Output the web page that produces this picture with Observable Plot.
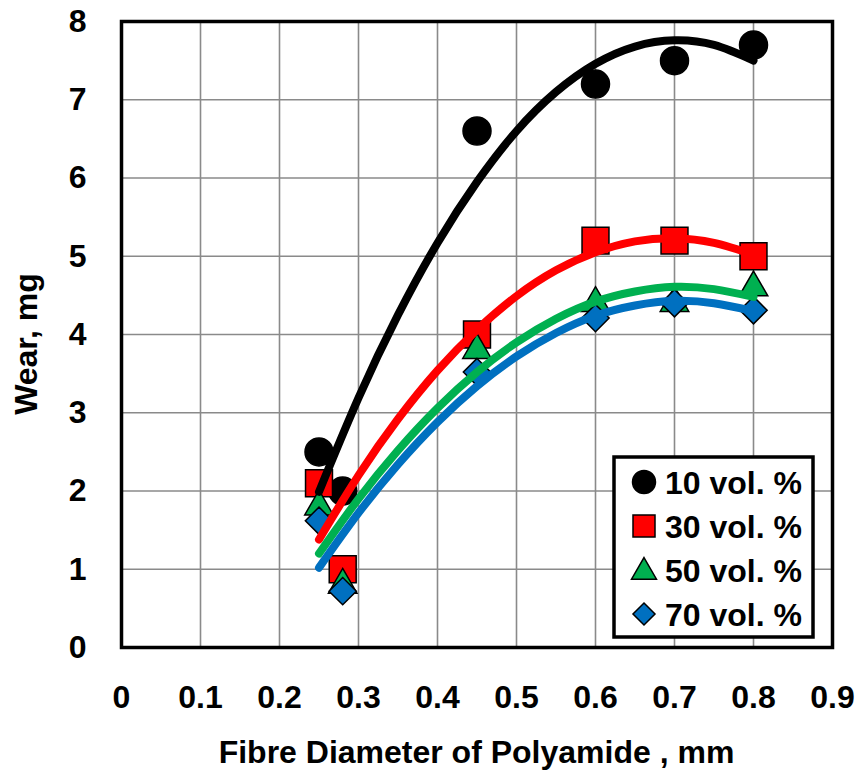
<!DOCTYPE html>
<html><head><meta charset="utf-8">
<script src="https://cdn.jsdelivr.net/npm/d3@7"></script>
<script src="https://cdn.jsdelivr.net/npm/@observablehq/plot@0.6"></script>
<style>
body{margin:0;background:#fff}
#chart{position:relative;width:857px;height:774px}
</style>
</head><body><div id="chart"></div>
<script>
// ---- data ----
const diameters = [0.25, 0.28, 0.45, 0.6, 0.7, 0.8];
const wear10 = [2.5, 2.0, 6.6, 7.2, 7.5, 7.7];
const wear30 = [2.1, 1.0, 4.0, 5.2, 5.2, 5.0];
const wear50 = [1.8, 0.8, 3.8, 4.4, 4.4, 4.6];
const wear70 = [1.62, 0.72, 3.52, 4.21, 4.4, 4.31];

// trend curves
const fitX  = [0.25, 0.30, 0.35, 0.40, 0.45, 0.50, 0.55, 0.60, 0.65, 0.70, 0.75, 0.80];
const fit10 = [1.99, 3.19, 4.25, 5.17, 5.95, 6.60, 7.10, 7.46, 7.68, 7.76, 7.70, 7.50];
const fit30 = [1.38, 2.20, 2.92, 3.54, 4.06, 4.49, 4.82, 5.05, 5.19, 5.23, 5.17, 5.02];
const fit50 = [1.20, 1.90, 2.52, 3.06, 3.52, 3.90, 4.20, 4.42, 4.55, 4.61, 4.58, 4.48];
const fit70 = [1.02, 1.72, 2.34, 2.88, 3.34, 3.72, 4.02, 4.24, 4.37, 4.43, 4.40, 4.30];

const seriesNames   = ["10 vol. %", "30 vol. %", "50 vol. %", "70 vol. %"];
const seriesColors  = ["#000000", "#FF0000", "#00B050", "#0070C0"];
const seriesSymbols = ["circle", "square", "triangle", "diamond2"];

const xTicks = [0, 0.1, 0.2, 0.3, 0.4, 0.5, 0.6, 0.7, 0.8, 0.9];
const yTicks = [0, 1, 2, 3, 4, 5, 6, 7, 8];
const xTitle = "Fibre Diameter of Polyamide , mm";
const yTitle = "Wear, mg";

// ---- layout ----
const W = 857, H = 774, mL = 121, mR = 25, mT = 21, mB = 127;
const FONT = "'Liberation Sans', Arial, sans-serif";
const markerR = [14, 15.2, 10.6, 12.3];
const wearSets = [wear10, wear30, wear50, wear70];
const fitSets = [fit10, fit30, fit50, fit70];

const dotMarks = wearSets.map((ws, i) =>
  Plot.dot(diameters.map((d, j) => ({x: d, y: ws[j]})), {
    x: "x", y: "y", symbol: seriesSymbols[i], r: markerR[i],
    fill: seriesColors[i], stroke: "black", strokeWidth: 1.5
  })
);
const lineMarks = fitSets.map((fs, i) =>
  Plot.line(fitX.map((x, j) => ({x, y: fs[j]})), {
    x: "x", y: "y", stroke: seriesColors[i], strokeWidth: 8,
    curve: "natural", strokeLinecap: "round"
  })
);

const svg = Plot.plot({
  width: W, height: H,
  marginLeft: mL, marginRight: mR, marginTop: mT, marginBottom: mB,
  style: {fontFamily: FONT, fontSize: "32px", fontWeight: "bold", color: "black", background: "white"},
  x: {domain: [0, 0.9]},
  y: {domain: [0, 8]},
  marks: [
    Plot.gridX(xTicks, {stroke: "#8a8a8a", strokeOpacity: 1, strokeWidth: 1.6}),
    Plot.gridY(yTicks, {stroke: "#8a8a8a", strokeOpacity: 1, strokeWidth: 1.6}),
    Plot.axisX(xTicks, {tickSize: 0, tickPadding: 38, tickFormat: d => String(d), label: null}),
    Plot.axisY(yTicks, {tickSize: 0, tickPadding: 35, tickFormat: d => String(d), label: null}),
    ...dotMarks,
    ...lineMarks,
    Plot.frame({stroke: "black", strokeWidth: 3.5})
  ]
});

document.getElementById("chart").appendChild(svg);

// axis titles
const s = d3.select(svg);
s.append("text")
  .attr("x", (mL + W - mR) / 2).attr("y", 763)
  .attr("text-anchor", "middle")
  .attr("font-family", FONT).attr("font-size", 32).attr("font-weight", "bold").attr("fill", "black")
  .text(xTitle);
s.append("text")
  .attr("transform", `translate(37, ${(mT + H - mB) / 2 + 10}) rotate(-90)`)
  .attr("text-anchor", "middle")
  .attr("font-family", FONT).attr("font-size", 32).attr("font-weight", "bold").attr("fill", "black")
  .text(yTitle);

// legend
const lg = s.append("g").attr("text-anchor", "start");
const LX = 614, LY = 457, LW = 199, LH = 180;
lg.append("rect").attr("x", LX).attr("y", LY).attr("width", LW).attr("height", LH)
  .attr("fill", "white").attr("stroke", "black").attr("stroke-width", 3.5);
const legSym = [d3.symbolCircle, d3.symbolSquare, d3.symbolTriangle, d3.symbolDiamond2];
const legSize = [Math.PI * 11.5 * 11.5, 22 * 22, 270, 310];
seriesNames.forEach((name, i) => {
  const cy = LY + 25 + i * 44;
  lg.append("path")
    .attr("d", d3.symbol().type(legSym[i]).size(legSize[i])())
    .attr("transform", `translate(${LX + 30}, ${cy + (i === 2 ? 2 : 0)})`)
    .attr("fill", seriesColors[i]).attr("stroke", "black").attr("stroke-width", 1.5);
  lg.append("text")
    .attr("x", LX + 51).attr("y", cy).attr("dy", "0.36em")
    .attr("text-anchor", "start")
    .attr("font-family", FONT).attr("font-size", 32).attr("font-weight", "bold").attr("fill", "black")
    .text(name);
});
</script>
</body></html>
